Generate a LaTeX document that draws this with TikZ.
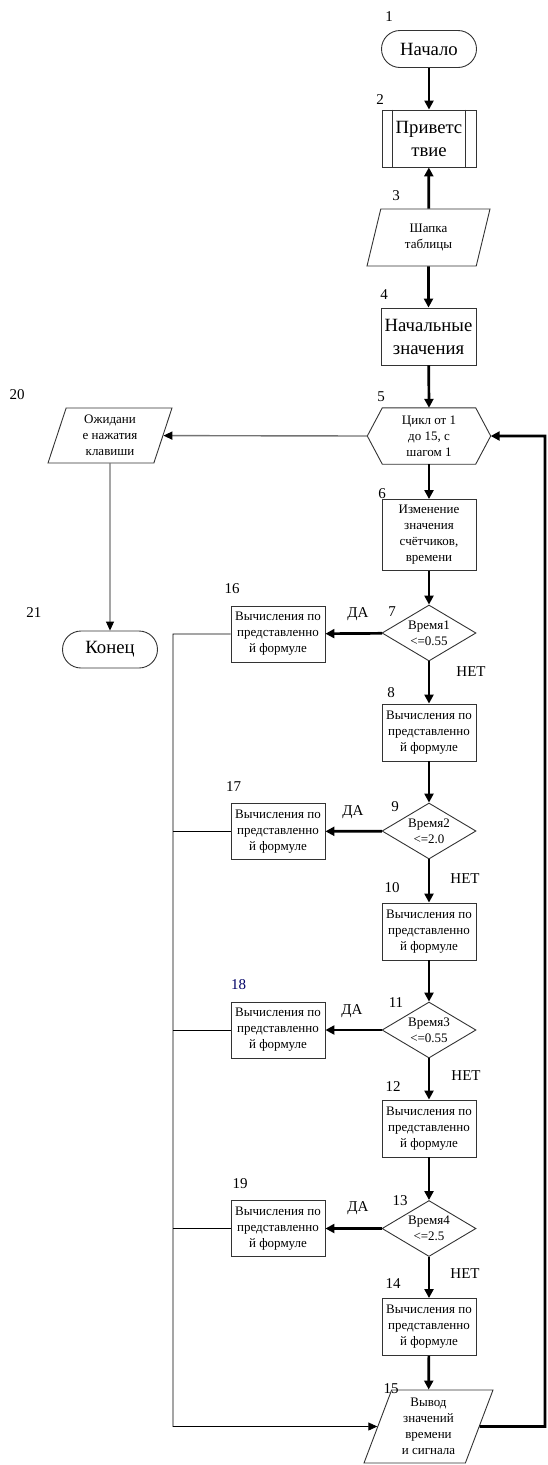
\documentclass[tikz,border=0pt]{standalone}
\usepackage{fontspec}
\setmainfont{Liberation Serif}
\usepackage{tikz}
\usetikzlibrary{shapes.geometric,arrows.meta}

\tikzset{
  txt/.style={font=\fontsize{13}{16}\selectfont, align=center},
  big/.style={font=\fontsize{18.7}{23}\selectfont, align=center},
  num/.style={font=\fontsize{15}{18}\selectfont, inner sep=0pt},
  box/.style={draw=black!80, line width=0.9pt},
  proc/.style={box, txt, minimum width=94pt, minimum height=57pt, inner sep=0pt},
  term/.style={box, big, rounded corners=18.5pt, minimum width=95pt, minimum height=37pt},
  cond/.style={box, txt, diamond, aspect=1.68, minimum width=94pt, minimum height=56pt, inner sep=0pt},
  io/.style={box, txt, trapezium, trapezium stretches body, inner sep=0pt},
  flow/.style={line width=2.7pt, -{Triangle[length=9pt,width=9pt]}},
  link/.style={line width=0.9pt, -{Triangle[length=9pt,width=8pt]}},
  bus/.style={line width=0.9pt}
}

\begin{document}
\begin{tikzpicture}[x=1pt, y=-1pt]
  \useasboundingbox (0,0) rectangle (547,1465);

  \node[term] (n1) at (429,49) {Начало};
  \node[box, big, minimum width=94pt, minimum height=57pt, inner sep=0pt] (n2) at (429,138.5) {Приветс\\твие};
  \draw[box] ([xshift=11pt]n2.north west) -- ([xshift=11pt]n2.south west)
             ([xshift=-11pt]n2.north east) -- ([xshift=-11pt]n2.south east);
  \node[io, trapezium left angle=63, trapezium right angle=117, minimum width=123pt, minimum height=57pt] (n3) at (428.5,237.5) {Шапка\\таблицы};
  \node[proc, big, minimum width=95pt] (n4) at (428.5,336.5) {Начальные\\значения};
  \node[txt, minimum width=123pt, minimum height=56pt, inner sep=0pt] (n5) at (429,436) {Цикл от 1\\до 15, с\\шагом 1};
  \draw[box] (n5.west) -- ([xshift=15pt]n5.north west) -- ([xshift=-15pt]n5.north east) -- (n5.east)
             -- ([xshift=-15pt]n5.south east) -- ([xshift=15pt]n5.south west) -- cycle;
  \node[proc, minimum height=71pt] (n6) at (429,535) {Изменение\\значения\\счётчиков,\\времени};
  \node[cond] (n7) at (429,633) {Время1\\<=0.55};
  \node[proc] (n8) at (429,732.5) {Вычисления по\\представленно\\й формуле};
  \node[cond] (n9) at (429,831) {Время2\\<=2.0};
  \node[proc] (n10) at (429,931.5) {Вычисления по\\представленно\\й формуле};
  \node[cond] (n11) at (429,1030) {Время3\\<=0.55};
  \node[proc] (n12) at (429,1128.5) {Вычисления по\\представленно\\й формуле};
  \node[cond] (n13) at (429,1228.5) {Время4\\<=2.5};
  \node[proc] (n14) at (429,1327) {Вычисления по\\представленно\\й формуле};
  \node[io, trapezium left angle=64, trapezium right angle=116, minimum width=129pt, minimum height=73pt] (n15) at (428.5,1426.5) {Вывод\\значений\\времени\\и сигнала};
  \node[proc, minimum height=56pt] (n16) at (278,634) {Вычисления по\\представленно\\й формуле};
  \node[proc, minimum height=56pt] (n17) at (278,831.5) {Вычисления по\\представленно\\й формуле};
  \node[proc, minimum height=56pt] (n18) at (278,1030) {Вычисления по\\представленно\\й формуле};
  \node[proc, minimum height=56pt] (n19) at (278,1228.5) {Вычисления по\\представленно\\й формуле};
  \node[io, trapezium left angle=66, trapezium right angle=114, minimum width=124pt, minimum height=55pt] (n20) at (110,435.5) {Ожидани\\е нажатия\\клавиши};
  \node[term] (n21) at (110,649.5) {Конец};

  \node[num] (l1) at (389,17) {1};
  \node[num] (l2) at (380,100) {2};
  \node[num] (l3) at (396,196) {3};
  \node[num] (l4) at (384,295) {4};
  \node[num] (l5) at (381,397) {5};
  \node[num] (l6) at (382,494) {6};
  \node[num] (l7) at (392,612) {7};
  \node[num] (l8) at (391,693) {8};
  \node[num] (l9) at (395,807) {9};
  \node[num] (l10) at (392,888) {10};
  \node[num] (l11) at (396,1003) {11};
  \node[num] (l12) at (393,1087) {12};
  \node[num] (l13) at (400,1201) {13};
  \node[num] (l14) at (393,1284) {14};
  \node[num] (l15) at (391,1389) {15};
  \node[num] (l16) at (232,589) {16};
  \node[num] (l17) at (233.5,787) {17};
  \node[num, text=blue!40!black] (l18) at (238.5,985) {18};
  \node[num] (l19) at (240,1184) {19};
  \node[num] (l20) at (17,395) {20};
  \node[num] (l21) at (34,613) {21};

  \node[num] (y7) at (358,614) {ДА};
  \node[num] (y9) at (353,812) {ДА};
  \node[num] (y11) at (352,1011) {ДА};
  \node[num] (y13) at (358,1208) {ДА};
  \node[num] (f7) at (471,672) {НЕТ};
  \node[num] (f9) at (465,879) {НЕТ};
  \node[num] (f11) at (466,1076) {НЕТ};
  \node[num] (f13) at (465,1274) {НЕТ};

  \path[flow]
  (n1) edge (n2)
  (n3) edge (n2)
  (n3) edge (n4)
  (n4) edge (n5.north)
  (n5.south) edge (n6)
  (n6) edge (n7)
  (n7) edge (n8)
  (n8) edge (n9)
  (n9) edge (n10)
  (n10) edge (n11)
  (n11) edge (n12)
  (n12) edge (n13)
  (n13) edge (n14)
  (n14) edge (n15)
  (n7) edge (n16)
  (n9) edge (n17)
  (n11) edge (n18)
  (n13) edge (n19);

  \coordinate (loop) at (545,1426.5);
  \coordinate (bus) at (173,1426.5);
  \draw[flow] (n15) -- (loop) |- (n5.east);
  \draw[bus] (n17.west) -- (n17.west -| bus)
             (n18.west) -- (n18.west -| bus)
             (n19.west) -- (n19.west -| bus);
  \draw[link] (n16.west) -| (bus) -- (n15);
  \draw[link, draw=black!55, line width=1.4pt, -{Triangle[length=9pt,width=8pt,color=black]}] (n5.west) -- (n20);
  \draw[link] (n20) -- (n21);
\end{tikzpicture}
\end{document}
